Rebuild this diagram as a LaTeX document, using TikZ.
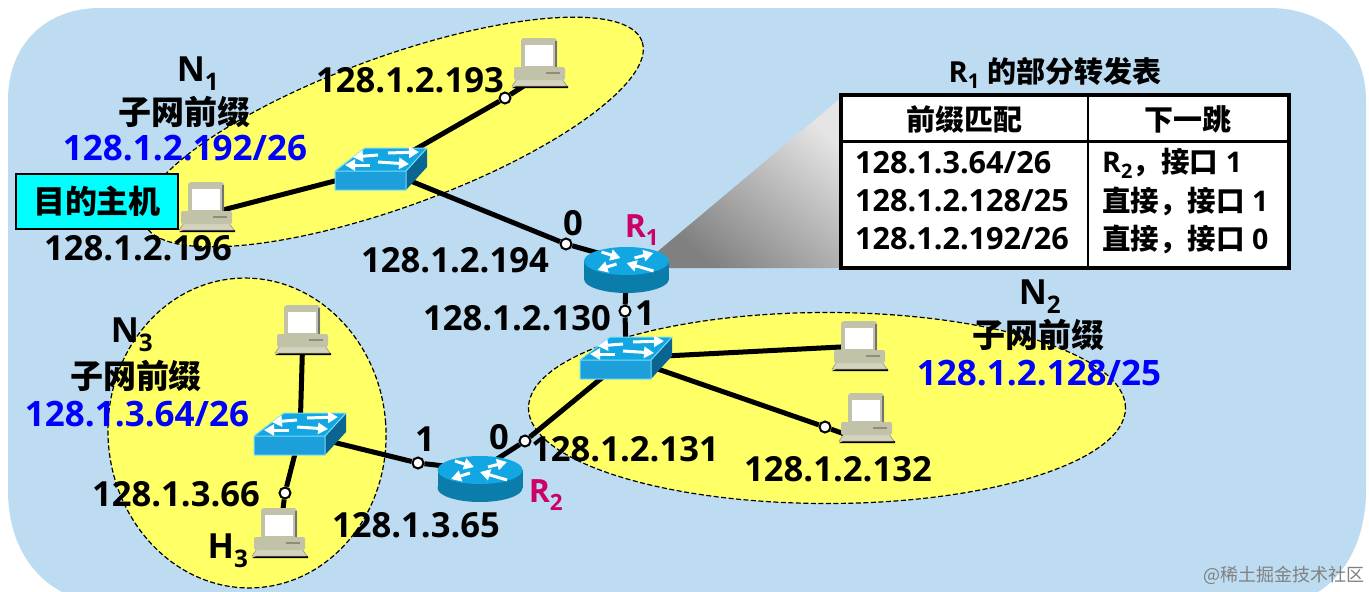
\documentclass[tikz,border=0pt]{standalone}
\usepackage{fontspec}
\setmainfont{Open Sans}
\newfontfamily\cjk{Noto Sans CJK SC}
\usetikzlibrary{shapes.geometric,arrows.meta}
\pgfdeclarelayer{bg}
\pgfdeclarelayer{wires}
\pgfsetlayers{bg,wires,main}
\definecolor{skyb}{HTML}{BDDCF1}
\definecolor{yell}{HTML}{FFFF66}
\definecolor{rose}{HTML}{CC0066}
\definecolor{goalc}{HTML}{00FFFF}
\definecolor{pcbody}{HTML}{C2C2A8}
\definecolor{pclight}{HTML}{D4D4BE}
\definecolor{pcdark}{HTML}{8E8E78}
\definecolor{ciscotop}{HTML}{12A7E2}
\definecolor{ciscofront}{HTML}{1C9FDA}
\definecolor{ciscoside}{HTML}{0B7DAB}
\definecolor{ciscodark}{HTML}{0A6592}
\definecolor{ciscoedge}{HTML}{7ADCF5}
\tikzset{
  net/.style={draw=black,dash pattern=on 5pt off 2.5pt,line width=1.2pt,fill=yell,ellipse,inner sep=0pt},
  wire/.style={draw=black,line width=5pt},
  port/.style={circle,draw=black,line width=2pt,fill=white,minimum size=11pt,inner sep=0pt},
  ipt/.style={font=\fontsize{34.6pt}{40pt}\selectfont\bfseries,text=black,inner sep=0pt},
  bluet/.style={ipt,text=blue,font=\fontsize{35pt}{40pt}\selectfont\bfseries},
  rt/.style={ipt,text=rose,font=\fontsize{32pt}{38pt}\selectfont\bfseries},
  cnt/.style={font=\fontsize{33pt}{38pt}\selectfont\cjk\bfseries,text=black,inner sep=0pt},
  tabt/.style={font=\fontsize{30.6pt}{36pt}\selectfont\bfseries,text=black,inner sep=0pt,anchor=west},
  tabr/.style={font=\fontsize{28.5pt}{36pt}\selectfont\bfseries,text=black,inner sep=0pt,anchor=west},
  tabh/.style={font=\fontsize{29pt}{36pt}\selectfont\cjk\bfseries,text=black,inner sep=0pt},
  wa/.style={draw=white,line width=3pt,-{Triangle[length=10pt,width=11pt]}},
}
\newcommand{\pcbox}[3]{%
  \coordinate (#1) at (#2,#3);
  \begin{scope}[shift={(#2,#3)}]
    \fill[black] (-24,23) -- (28,23) -- (28,25) -- (-28,25) -- cycle;
    \fill[pclight,draw=pcdark,line width=.5pt] (-23,16) -- (22,16) -- (27,23) -- (-28,23) -- cycle;
    \fill[pcbody,rounded corners=2pt] (-26,4) rectangle (25,17);
    \fill[pcdark] (6,9) rectangle (20,11);
    \fill[pcbody,rounded corners=3pt] (-19,-25) rectangle (17,6);
    \fill[black!55] (15,-22) rectangle (17,4);
    \fill[white] (-15,-18) rectangle (13,3);
  \end{scope}}
\newcommand{\swbox}[3]{%
  \coordinate (#1) at (#2+46,#3-2);
  \begin{scope}[shift={(#2,#3)}]
    \fill[ciscodark] (71,0) -- (92,-23) -- (92,-4) -- (71,19) -- cycle;
    \fill[ciscotop] (0,0) -- (30,-23) -- (92,-23) -- (71,0) -- cycle;
    \fill[ciscofront] (0,0) rectangle (71,19);
    \draw[ciscoedge,line width=1pt,line join=round] (0,19) -- (0,0) -- (30,-23) -- (92,-23) -- (71,0) -- (0,0) (71,0) -- (71,19) -- (0,19);
    \draw[wa] (43,-16) -- (18,-14);
    \draw[wa] (53,-18) -- (84,-19);
    \draw[wa] (35,-6) -- (10,-6);
    \draw[wa] (43,-9) -- (74,-7);
  \end{scope}}
\newcommand{\rtbox}[3]{%
  \coordinate (#1) at (#2,#3);
  \begin{scope}[shift={(#2,#3)}]
    \fill[ciscoside] (0,18) ellipse[x radius=42.5,y radius=14];
    \fill[ciscoside] (-42.5,0) rectangle (42.5,18);
    \fill[ciscotop] (0,0) ellipse[x radius=42.5,y radius=14];
    \draw[wa] (8,-3) -- (27,-8);
    \draw[wa] (-10,3) -- (-29,9);
    \draw[wa] (-25,-9) -- (-6,-3);
    \draw[wa] (27,10) -- (0,2);
  \end{scope}}
\begin{document}
\begin{tikzpicture}[x=1pt,y=-1pt]
\useasboundingbox (0,0) rectangle (1369,592);
\begin{pgfonlayer}{bg}
  \fill[white] (0,0) rectangle (1369,592);
  \fill[skyb] (8,100) .. controls (8,45) and (45,8) .. (100,8) -- (1270,8)
     .. controls (1325,8) and (1366,45) .. (1366,100) -- (1366,490)
     .. controls (1366,540) and (1345,575) .. (1318,592) -- (62,592)
     .. controls (30,575) and (8,540) .. (8,490) -- cycle;
  \node[net,minimum width=530pt,minimum height=150pt,rotate=20] (n1) at (393,132) {};
  \node[net,minimum width=278pt,minimum height=310pt,rotate=4] (n3) at (247,433) {};
  \node[net,minimum width=597pt,minimum height=191pt] (n2) at (827,408) {};
  \shade[top color=black!10,bottom color=black!50,shading angle=-40] (657,252) -- (842,97) -- (842,268) -- (669,268) -- cycle;
\end{pgfonlayer}

% devices
\pcbox{pcA}{540}{63}
\pcbox{pcB}{207}{207}
\pcbox{pcC}{303}{330}
\pcbox{pcH}{280}{533}
\pcbox{pcD}{860}{346}
\pcbox{pcE}{867}{418}
\swbox{swA}{335}{171}
\swbox{swB}{580}{360}
\swbox{swC}{254}{436}
\rtbox{rtA}{626.5}{261}
\rtbox{rtB}{480}{470}
\coordinate (pA) at (530,82);
\coordinate (pB) at (215,212);
\coordinate (pE) at (850,436);

% port dots
\node[port] (d193) at (505,98) {};
\node[port] (d194) at (566,244) {};
\node[port] (d130) at (625,311) {};
\node[port] (d131) at (525,441) {};
\node[port] (d365) at (418,463) {};
\node[port] (d366) at (285,493) {};
\node[port] (d132) at (825,427) {};

\begin{pgfonlayer}{wires}
  \draw[wire] (swA) -- (d193) -- (pA);
  \draw[wire] (swA) -- (pB);
  \draw[wire] (swA) -- (d194) -- (rtA);
  \draw[wire] (rtA) -- (d130) -- (swB);
  \draw[wire] (swB) -- (pcD);
  \draw[wire] (swB) -- (d132) -- (pE);
  \draw[wire] (swB) -- (d131) -- (rtB);
  \draw[wire] (rtB) -- (d365) -- (swC);
  \draw[wire] (swC) -- (pcC);
  \draw[wire] (swC) -- (d366) -- (pcH);
\end{pgfonlayer}

% labels
\node[ipt] (tN1) at (198,74) {N\textsubscript{1}};
\node[cnt] (tP1) at (184,112) {子网前缀};
\node[bluet] (tB1) at (185,148) {128.1.2.192/26};
\node[ipt] (t193) at (410,80) {128.1.2.193};
\node[ipt] (t196) at (138,248) {128.1.2.196};
\node[ipt] (t194) at (455,260) {128.1.2.194};
\node[ipt] (t0a) at (573,223) {0};
\node[rt] (tR1) at (642,230) {R\textsubscript{1}};
\node[ipt] (t130) at (517,318) {128.1.2.130};
\node[ipt] (t1a) at (645,313) {1};
\node[ipt] (tN2) at (1040,297) {N\textsubscript{2}};
\node[cnt] (tP2) at (1038,335) {子网前缀};
\node[bluet] (tB2) at (1039,373) {128.1.2.128/25};
\node[ipt] (t131) at (625,449) {128.1.2.131};
\node[ipt] (t132) at (838,469) {128.1.2.132};
\node[ipt] (t0b) at (499,437) {0};
\node[ipt] (t1b) at (425,439) {1};
\node[rt] (tR2) at (546,495) {R\textsubscript{2}};
\node[ipt] (t365) at (416,525) {128.1.3.65};
\node[ipt] (t366) at (176,494) {128.1.3.66};
\node[ipt] (tH3) at (228,551) {H\textsubscript{3}};
\node[ipt] (tN3) at (132,335) {N\textsubscript{3}};
\node[cnt] (tP3) at (136,376) {子网前缀};
\node[bluet] (tB3) at (137,414) {128.1.3.64/26};

\node[draw=black,line width=1.8pt,fill=goalc,minimum width=162pt,minimum height=55pt,inner sep=0pt,
      font=\fontsize{32pt}{38pt}\selectfont\cjk\bfseries] (goal) at (97,201.5) {目的主机};

% table
\node[font=\fontsize{29pt}{34pt}\selectfont\bfseries,inner sep=0pt] (tabtitle) at (1055,73) {R\textsubscript{1} {\cjk 的部分转发表}};
\node[draw=black,line width=4pt,fill=white,minimum width=448pt,minimum height=173pt,inner sep=0pt] (tab) at (1065,181.5) {};
\coordinate (hl) at (tab.west |- 0,141);
\coordinate (hr) at (tab.east |- 0,141);
\coordinate (vt) at (1088,0 |- tab.north);
\coordinate (vb) at (1088,0 |- tab.south);
\draw[black,line width=3pt] (hl) -- (hr);
\draw[black,line width=2.5pt] (vt) -- (vb);
\node[tabh] (h1) at (964,119) {前缀匹配};
\node[tabh] (h2) at (1188,119) {下一跳};
\node[tabt] (r1a) at (855,163) {128.1.3.64/26};
\node[tabt] (r2a) at (855,201) {128.1.2.128/25};
\node[tabt] (r3a) at (855,239) {128.1.2.192/26};
\node[tabr] (r1b) at (1102,163) {R\textsubscript{2}{\cjk ，接口} 1};
\node[tabr] (r2b) at (1102,201) {{\cjk 直接，接口} 1};
\node[tabr] (r3b) at (1102,239) {{\cjk 直接，接口} 0};

\node[font=\fontsize{18pt}{22pt}\selectfont\cjk,text=black!50,inner sep=0pt,anchor=east] (wm) at (1365,575) {@稀土掘金技术社区};
\end{tikzpicture}
\end{document}
